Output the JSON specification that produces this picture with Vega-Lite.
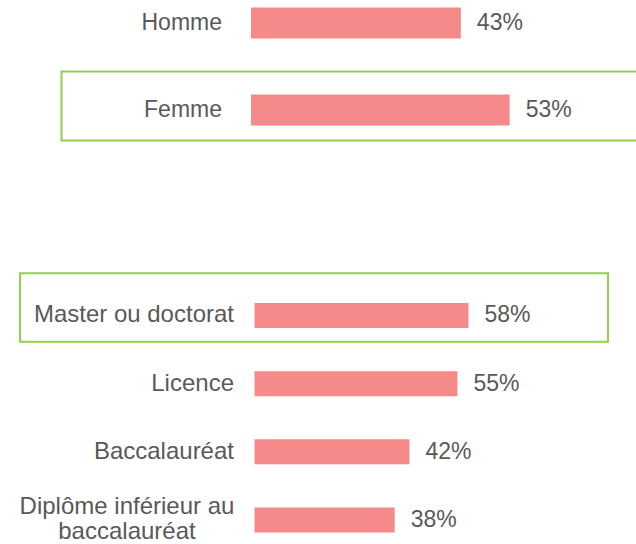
{
  "$schema": "https://vega.github.io/schema/vega-lite/v6.json",
  "padding": 0,
  "background": "white",
  "bounds": "flush",
  "spacing": 145,
  "config": {
    "view": {"stroke": null},
    "text": {"font": "Liberation Sans", "fontSize": 23, "color": "#595959"}
  },
  "vconcat": [
    {
      "width": 636,
      "height": 150,
      "data": {"values": [
        {"cat": "Homme", "pct": 0.43},
        {"cat": "Femme", "pct": 0.53}
      ]},
      "encoding": {
        "y": {"field": "cat", "type": "nominal", "sort": ["Homme", "Femme"],
              "scale": {"type": "point", "padding": 0.362, "align": 0.365}, "axis": null}
      },
      "layer": [
        {
          "transform": [{"filter": "datum.cat === 'Femme'"}],
          "mark": {"type": "bar", "height": 69, "yOffset": -4, "fill": "transparent",
                   "stroke": "#92D050", "strokeWidth": 2, "clip": true},
          "encoding": {
            "x": {"datum": -0.3883, "type": "quantitative",
                  "scale": {"domain": [-0.5143, 0.7889], "nice": false, "zero": false}, "axis": null},
            "x2": {"datum": 0.82}
          }
        },
        {
          "mark": {"type": "bar", "height": 31, "color": "#F68A8A"},
          "encoding": {
            "x": {"field": "pct", "type": "quantitative",
                  "scale": {"domain": [-0.5143, 0.7889], "nice": false, "zero": false}, "axis": null}
          }
        },
        {
          "mark": {"type": "text", "align": "right", "baseline": "middle", "dx": -29},
          "encoding": {
            "x": {"datum": 0, "type": "quantitative"},
            "text": {"field": "cat"}
          }
        },
        {
          "mark": {"type": "text", "align": "left", "baseline": "middle", "dx": 16},
          "encoding": {
            "x": {"field": "pct", "type": "quantitative"},
            "text": {"field": "pct", "format": ".0%"}
          }
        }
      ]
    },
    {
      "width": 636,
      "height": 245.5,
      "data": {"values": [
        {"cat": "Master ou doctorat", "pct": 0.58},
        {"cat": "Licence", "pct": 0.55},
        {"cat": "Baccalauréat", "pct": 0.42},
        {"cat": "Diplôme inférieur au\nbaccalauréat", "pct": 0.38}
      ]},
      "encoding": {
        "y": {"field": "cat", "type": "nominal",
              "sort": ["Master ou doctorat", "Licence", "Baccalauréat", "Diplôme inférieur au\nbaccalauréat"],
              "scale": {"type": "point", "padding": 0.3}, "axis": null}
      },
      "layer": [
        {
          "transform": [{"filter": "datum.cat === 'Master ou doctorat'"}],
          "mark": {"type": "bar", "height": 68.5, "yOffset": -8, "fill": "transparent",
                   "stroke": "#92D050", "strokeWidth": 2},
          "encoding": {
            "x": {"datum": -0.6355, "type": "quantitative",
                  "scale": {"domain": [-0.6897, 1.0339], "nice": false, "zero": false}, "axis": null},
            "x2": {"datum": 0.958}
          }
        },
        {
          "mark": {"type": "bar", "height": 25, "color": "#F68A8A"},
          "encoding": {
            "x": {"field": "pct", "type": "quantitative",
                  "scale": {"domain": [-0.6897, 1.0339], "nice": false, "zero": false}, "axis": null}
          }
        },
        {
          "transform": [{"filter": "indexof(datum.cat, 'Diplôme') < 0"}],
          "mark": {"type": "text", "align": "right", "baseline": "middle", "dx": -20.5, "fontSize": 24},
          "encoding": {
            "x": {"datum": 0, "type": "quantitative"},
            "text": {"field": "cat"}
          }
        },
        {
          "transform": [{"filter": "indexof(datum.cat, 'Diplôme') >= 0"}],
          "mark": {"type": "text", "align": "center", "baseline": "middle", "dx": -127.5, "dy": -13,
                   "fontSize": 24, "lineBreak": "\n", "lineHeight": 24.5},
          "encoding": {
            "x": {"datum": 0, "type": "quantitative"},
            "text": {"field": "cat"}
          }
        },
        {
          "mark": {"type": "text", "align": "left", "baseline": "middle", "dx": 16},
          "encoding": {
            "x": {"field": "pct", "type": "quantitative"},
            "text": {"field": "pct", "format": ".0%"}
          }
        }
      ]
    }
  ]
}
